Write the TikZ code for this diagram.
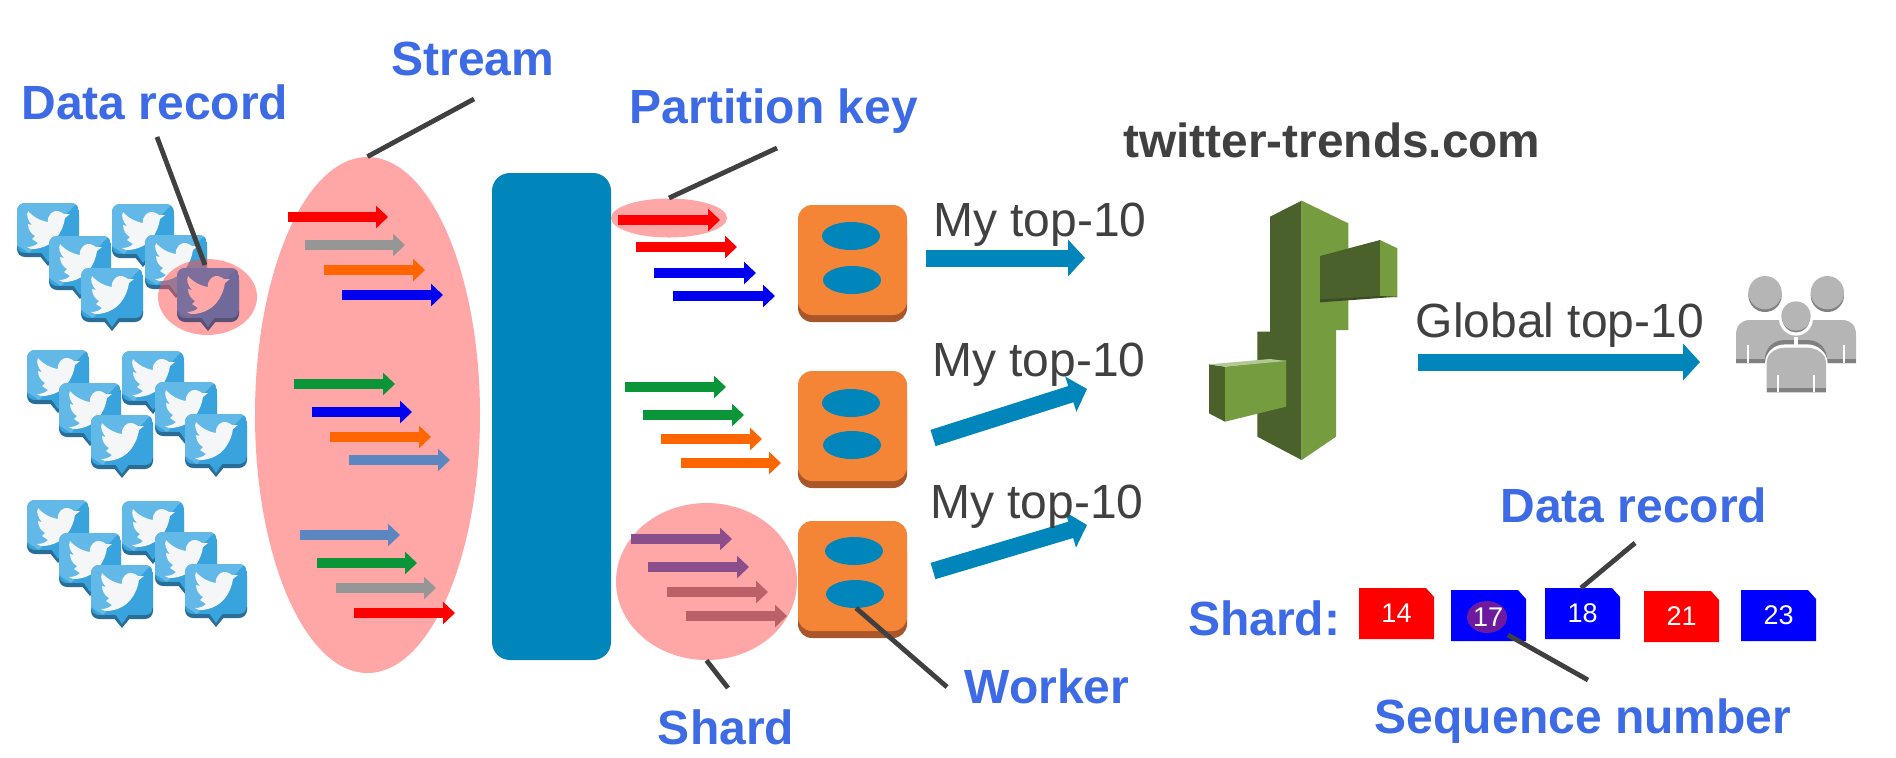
\documentclass[tikz,border=0pt]{standalone}
\usepackage{fontspec}
\setmainfont{Liberation Sans}
\usetikzlibrary{arrows.meta,shapes.geometric}
\definecolor{lblue}{HTML}{3D6BE6}
\definecolor{dgray}{HTML}{404040}
\definecolor{kblue}{HTML}{0086BA}
\definecolor{worange}{HTML}{F58536}
\definecolor{wshadow}{HTML}{A9562A}
\definecolor{pinkc}{HTML}{FFA6A6}
\definecolor{gred}{HTML}{FF0000}
\definecolor{ggray}{HTML}{969696}
\definecolor{gorange}{HTML}{FF6600}
\definecolor{gblue}{HTML}{0000F0}
\definecolor{ggreen}{HTML}{0A9638}
\definecolor{gsteel}{HTML}{5B86C0}
\definecolor{gpurple}{HTML}{8A4F8A}
\definecolor{grose}{HTML}{BB6066}
\definecolor{awsl}{HTML}{759C3E}
\definecolor{awsd}{HTML}{4B612C}
\definecolor{twmain}{HTML}{38A3DC}
\definecolor{twlight}{HTML}{62B8E6}
\definecolor{twshadow}{HTML}{2A6E98}
\definecolor{twbird}{HTML}{F4F6F8}
\definecolor{hmain}{HTML}{6F6A9A}
\definecolor{hlight}{HTML}{7D6F9C}
\definecolor{hshadow}{HTML}{5A4F75}
\definecolor{plight}{HTML}{B5B5B5}
\definecolor{pdark}{HTML}{808080}
\definecolor{seqpurple}{HTML}{6E1A9E}
\tikzset{
  lbl/.style={inner sep=0pt,font=\fontsize{24}{28}\selectfont\bfseries,text=lblue},
  toplbl/.style={inner sep=0pt,font=\fontsize{24}{28}\selectfont,text=dgray},
  leader/.style={draw=dgray,line width=2.4pt},
  sarrow/.style={line width=5pt,-{Triangle[width=11pt,length=6pt]}},
  barrow/.style={draw=kblue,line width=8.5pt,-{Triangle[width=18pt,length=8.5pt]}},
  oval/.style={ellipse,inner sep=0pt,fill=pinkc},
  num/.style={inner sep=0pt,text=white,font=\fontsize{13.5}{16}\selectfont},
}
\newcommand{\twi}[6]{%
 \begin{scope}[shift={(#1,#2)}]
  \fill[#5,rounded corners=4pt] (0,4) rectangle (62,54);
  \fill[#5] (22,52) -- (31,63) -- (40,52) -- cycle;
  \begin{scope}
   \clip[rounded corners=4pt] (0,0) rectangle (62,50);
   \fill[#3] (0,0) rectangle (62,50);
   \fill[#4] (0,0) -- (60,0) -- (12,50) -- (0,42) -- cycle;
  \end{scope}
  \fill[#3] (24,49) -- (31,59) -- (38,49) -- cycle;
  \fill[#6] (53,11) -- (48,15) .. controls (46,28) and (38,44) .. (17,46)
    .. controls (15,46) and (12,46) .. (10,44) .. controls (14,44) and (18,43) .. (21,40)
    -- (15,36) -- (18,33) .. controls (14,31) and (11,26) .. (11,21)
    -- (15,22) .. controls (11,18) and (9,12) .. (11,8)
    .. controls (16,14) and (24,18) .. (31,19)
    .. controls (30,12) and (36,7) .. (41,8) .. controls (44,9) and (46,10) .. (47,11) -- cycle;
 \end{scope}}
\newcommand{\twgroup}[2]{%
 \begin{scope}[shift={(#1,#2)}]
  \twi{0}{0}{twmain}{twlight}{twshadow}{twbird}
  \twi{95}{1}{twmain}{twlight}{twshadow}{twbird}
  \twi{32}{33}{twmain}{twlight}{twshadow}{twbird}
  \twi{128}{32}{twmain}{twlight}{twshadow}{twbird}
  \twi{64}{65}{twmain}{twlight}{twshadow}{twbird}
 \end{scope}}
\newcommand{\sarr}[4]{\draw[sarrow,draw=#4] (#1,#3) -- (#2,#3);}
\newcommand{\worker}[4]{%
 \fill[wshadow,rounded corners=7pt] (798,#2+16) rectangle (907,#2+117);
 \fill[worange,rounded corners=7pt] (798,#2) rectangle (907,#2+110);
 \fill[kblue] (#1,#3) ellipse [x radius=29,y radius=14];
 \fill[kblue] (#1+1,#4) ellipse [x radius=29,y radius=14];}
\newcommand{\seqb}[5]{%
 \fill[#4] (#2,#3) -- (#2+67,#3) -- (#2+75,#3+9) -- (#2+75,#3+51) -- (#2,#3+51) -- cycle;
 \node[num] (#1) at (#2+37.5,#3+25.5) {#5};}
\newcommand{\person}[2]{%
 \fill[pdark] (#1,#2+8) circle [radius=50];
 \fill[plight] (#1,#2) circle [radius=50];}
\begin{document}
\begin{tikzpicture}[x=0.5pt,y=-0.5pt]
\useasboundingbox (0,0) rectangle (1896,757);
\fill[white] (0,0) rectangle (1896,757);

% tweets
\twgroup{17}{203}
\twgroup{27}{350}
\twi{185}{414}{twmain}{twlight}{twshadow}{twbird}
\twgroup{27}{500}
\twi{185}{564}{twmain}{twlight}{twshadow}{twbird}
\node[oval,fill=red!70!white,fill opacity=.5,minimum width=49.5pt,minimum height=38pt] (recordoval) at (207.5,297) {};
\twi{177}{268}{hmain}{hlight}{hshadow}{pinkc}

% stream
\node[oval,minimum width=112.5pt,minimum height=258pt] (stream) at (367.5,415) {};
\sarr{288}{388}{217}{gred}
\sarr{305}{405}{245}{ggray}
\sarr{324}{425}{270}{gorange}
\sarr{342}{443}{295}{gblue}
\sarr{294}{395}{384}{ggreen}
\sarr{312}{412}{412}{gblue}
\sarr{330}{431}{437}{gorange}
\sarr{349}{450}{460}{gsteel}
\sarr{300}{400}{535}{gsteel}
\sarr{317}{417}{563}{ggreen}
\sarr{336}{436}{588}{ggray}
\sarr{354}{455}{613}{gred}

% kinesis bar
\node[fill=kblue,rounded corners=9pt,inner sep=0pt,minimum width=59.5pt,minimum height=243.5pt] (bar) at (551.5,416.5) {};

% shard arrows
\node[oval,minimum width=58pt,minimum height=19.5pt] (partoval) at (669,218) {};
\sarr{618}{720}{220}{gred}
\sarr{636}{737}{247}{gred}
\sarr{654}{756}{273}{gblue}
\sarr{673}{775}{296}{gblue}
\sarr{625}{726}{387}{ggreen}
\sarr{643}{744}{415}{ggreen}
\sarr{661}{762}{439}{gorange}
\sarr{681}{781}{463}{gorange}
\node[oval,minimum width=90.5pt,minimum height=78.5pt] (shardoval) at (706.5,581.5) {};
\sarr{631}{732}{539}{gpurple}
\sarr{648}{749}{567}{gpurple}
\sarr{667}{768}{592}{grose}
\sarr{686}{787}{616}{grose}

% workers
\worker{851}{205}{236}{280}
\worker{851}{371}{403}{445}
\worker{854}{521}{551}{594}
\coordinate (wtarget) at (856,608);

% big arrows
\coordinate (a1s) at (926,258); \coordinate (a1e) at (1085,258);
\coordinate (a2s) at (933,438); \coordinate (a2e) at (1087,389);
\coordinate (a3s) at (933,571); \coordinate (a3e) at (1087,525);
\coordinate (a4s) at (1418,362); \coordinate (a4e) at (1700,362);
\draw[barrow] (a1s) -- (a1e);
\draw[barrow] (a2s) -- (a2e);
\draw[barrow] (a3s) -- (a3e);
\draw[barrow] (a4s) -- (a4e);

% application icon
\begin{scope}[shift={(1180,180)},x=0.16667pt,y=-0.16667pt]
 \fill[awsd] (270,110) -- (365,62) -- (365,840) -- (232,770) -- (232,455) -- (270,455) -- cycle;
 \fill[awsl] (365,62) -- (505,130) -- (505,450) -- (468,450) -- (468,770) -- (365,840) -- cycle;
 \fill[awsd] (420,228) -- (600,180) -- (600,352) -- (420,365) -- cycle;
 \fill[awsl] (600,180) -- (652,205) -- (652,352) -- (600,350) -- cycle;
 \fill[awsd!80!black] (420,358) -- (600,348) -- (652,350) -- (600,354) -- (420,367) -- cycle;
 \fill[awsd] (87,553) -- (135,560) -- (135,725) -- (87,700) -- cycle;
 \fill[awsl] (135,560) -- (318,540) -- (318,680) -- (135,725) -- cycle;
 \fill[awsl!55!white] (87,553) -- (135,560) -- (318,543) -- (270,537) -- cycle;
\end{scope}

% users icon
\begin{scope}[shift={(1700,260)},x=0.16667pt,y=-0.16667pt]
 \fill[plight] (108,310) -- (108,225) .. controls (108,195) and (125,180) .. (150,180) -- (426,180) .. controls (451,180) and (468,195) .. (468,225) -- (468,310) -- cycle;
 \fill[pdark] (108,297) rectangle (468,310);
 \draw[white,line width=1pt] (143,255) -- (143,310) (433,255) -- (433,310);
 \person{195}{98}
 \person{382}{98}
 \draw[white,line width=1.6pt,fill=pdark] (288,176) circle [radius=46];
 \fill[plight] (288,168) circle [radius=44];
 \draw[pdark,line width=2.6pt] (202,305) .. controls (202,265) and (225,248) .. (255,248) -- (282,248) (294,248) -- (322,248) .. controls (350,248) and (374,265) .. (374,305);
 \draw[white,line width=1.6pt,fill=plight] (200,397) -- (200,310) .. controls (200,280) and (225,258) .. (255,258) -- (322,258) .. controls (350,258) and (378,280) .. (378,310) -- (378,397);
 \fill[white] (282,232) rectangle (294,262);
 \fill[plight] (200,310) .. controls (200,280) and (225,264) .. (255,264) -- (322,264) .. controls (350,264) and (378,280) .. (378,310) -- (378,397) -- (200,397) -- cycle;
 \fill[pdark] (200,383) rectangle (378,397);
 \draw[white,line width=1pt] (235,345) -- (235,397) (342,345) -- (342,397);
\end{scope}

% sequence boxes
\seqb{b14}{1359}{588}{red}{14}
\seqb{b17}{1451}{590}{blue}{}
\fill[seqpurple] (1487,617) ellipse [x radius=20,y radius=16];
\node[num] at (1488,617) {17};
\seqb{b18}{1545}{588}{blue}{18}
\seqb{b21}{1644}{591}{red}{21}
\seqb{b23}{1741}{590}{blue}{23}

% labels
\node[lbl] (lstream) at (473,59) {Stream};
\node[lbl] (lrecord) at (155,102) {Data record};
\node[lbl] (lpart) at (774,111) {Partition key};
\node[lbl] (lworker) at (1047,686) {Worker};
\node[lbl] (lshard) at (726,727) {Shard};
\node[lbl] (lrecord2) at (1634,505) {Data record};
\node[lbl] (lshard2) at (1264,618) {Shard:};
\node[lbl] (lseq) at (1583,721) {Sequence number};
\node[inner sep=0pt,font=\fontsize{23.9}{28}\selectfont\bfseries,text=dgray] (ltwitter) at (1332,140) {twitter-trends.com};
\node[toplbl] (lm1) at (1040,225) {My top-10};
\node[toplbl] (lm2) at (1039,365) {My top-10};
\node[toplbl] (lm3) at (1037,507) {My top-10};
\node[toplbl] (lglobal) at (1560,325) {Global top-10};

% leaders
\coordinate (c1) at (474,99);
\coordinate (c2) at (157,137);
\coordinate (c2e) at (205,265);
\coordinate (c3) at (777,148);
\coordinate (c3e) at (669,198);
\coordinate (c4) at (728,688);
\coordinate (c5) at (947,687);
\coordinate (c6) at (1635,543);
\coordinate (c6e) at (1581,588);
\coordinate (c7) at (1508,635);
\coordinate (c7e) at (1588,680);
\draw[leader] (c1) -- (stream.north);
\draw[leader] (c2) -- (c2e);
\draw[leader] (c3) -- (c3e);
\draw[leader] (c4) -- (shardoval.south);
\draw[leader] (c5) -- (wtarget);
\draw[leader] (c6) -- (c6e);
\draw[leader] (c7) -- (c7e);
\end{tikzpicture}
\end{document}
